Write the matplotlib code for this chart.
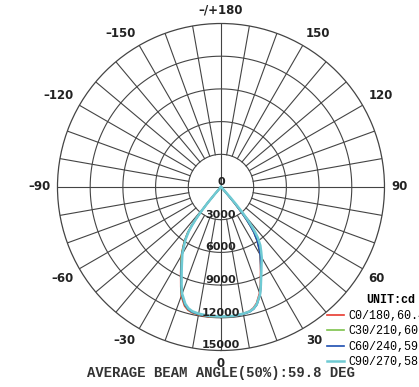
import numpy as np
import matplotlib.pyplot as plt

# vertical angle (deg) from nadir, same grid for every C-plane half
gamma = [0, 5, 10, 13, 15, 17, 20, 22, 25, 27, 30, 32, 34, 36, 37, 38, 39, 40, 41, 42, 44, 50, 60, 90]

# luminous intensity (cd), one list per half-plane
c0 = [11900, 11900, 11800, 11680, 11480, 11150, 10350, 9650, 8600, 8000, 7200, 6550, 5950, 5150, 4550, 3850, 3000, 1950, 850, 180, 0, 0, 0, 0]
c180 = [11950, 11960, 11900, 11830, 11700, 11420, 10650, 9850, 8750, 8100, 7280, 6620, 6020, 5220, 4620, 3920, 3070, 2020, 900, 200, 0, 0, 0, 0]
c30 = [11900, 11910, 11830, 11730, 11560, 11250, 10480, 9740, 8660, 8040, 7240, 6580, 5980, 5180, 4580, 3880, 3030, 1980, 870, 190, 0, 0, 0, 0]
c210 = [11920, 11930, 11870, 11790, 11640, 11340, 10560, 9800, 8700, 8060, 7250, 6590, 5990, 5190, 4590, 3890, 3040, 1990, 880, 190, 0, 0, 0, 0]
c60 = [11900, 11910, 11840, 11750, 11590, 11290, 10510, 9760, 8660, 8020, 7200, 6540, 5930, 5120, 4520, 3820, 2980, 1940, 850, 180, 0, 0, 0, 0]
c240 = [11900, 11910, 11850, 11770, 11610, 11300, 10510, 9740, 8640, 8000, 7180, 6520, 5910, 5100, 4500, 3800, 2960, 1920, 840, 170, 0, 0, 0, 0]
c90 = [11880, 11880, 11800, 11710, 11550, 11240, 10480, 9760, 8750, 8180, 7480, 6950, 6450, 5750, 5250, 4650, 3950, 3100, 2150, 1250, 300, 0, 0, 0]
c270 = [11880, 11880, 11800, 11700, 11530, 11200, 10420, 9660, 8540, 7900, 7080, 6420, 5820, 5020, 4420, 3720, 2880, 1860, 800, 160, 0, 0, 0, 0]

labels = ["C0/180,60.4DEG", "C30/210,60.2DEG", "C60/240,59.6DEG", "C90/270,58.9DEG"]
colors = ["#e8392f", "#7dc24b", "#1d4eb0", "#6fcad3"]
pairs = [(c0, c180), (c30, c210), (c60, c240), (c90, c270)]

rings = [3000, 6000, 9000, 12000, 15000]
ring_labels = ["0", "3000", "6000", "9000", "12000", "15000"]
angle_ticks = [0, 30, 60, 90, 120, 150, 180, -150, -120, -90, -60, -30]
angle_labels = ["0", "30", "60", "90", "120", "150", "\u2013/+180", "\u2013150", "\u2013120", "\u201390", "\u201360", "\u201330"]

fig = plt.figure(figsize=(4.19, 3.87), dpi=100)
ax = fig.add_axes([0.1372, 0.0943, 0.7804, 0.845], projection="polar")
ax.set_theta_zero_location("S")
ax.set_theta_direction(1)
ax.set_ylim(0, 15000)
ax.set_xticks([])
ax.set_yticks([])
ax.grid(False)
ax.spines["polar"].set_color("#444444")
ax.spines["polar"].set_linewidth(0.9)

grid_kw = dict(color="#444444", lw=0.8, zorder=1)
circle = np.linspace(0, 2 * np.pi, 361)
for r in rings[:-1]:
    ax.plot(circle, np.full_like(circle, r), **grid_kw)
for a in range(0, 360, 10):
    start = 0 if a % 90 == 0 else rings[0]
    ax.plot([np.radians(a)] * 2, [start, 15000], **grid_kw)

# each curve: left half (C180..) mirrored onto negative angles, right half positive
g = np.array(gamma)
theta = np.radians(np.concatenate([-g[::-1], g[1:]]))
lines = []
for (right, left), color, lab in zip(pairs, colors, labels):
    r = np.concatenate([np.array(left)[::-1], np.array(right)[1:]])
    lw = 1.8 if color == "#6fcad3" else 1.2
    ln, = ax.plot(theta, r, color=color, lw=lw, label=lab, zorder=3)
    lines.append(ln)

for val, txt in zip([0] + rings, ring_labels):
    ax.text(0, val, txt, ha="center", va="bottom", fontsize=8,
            fontweight="bold", color="#222222", zorder=4)

# angle labels hang off a point just outside the rim, aligned away from the centre
for a, txt in zip(angle_ticks, angle_labels):
    s, c = np.sin(np.radians(a)), np.cos(np.radians(a))
    ha = "left" if s > 0.01 else ("right" if s < -0.01 else "center")
    va = "bottom" if c < -0.01 else ("top" if c > 0.01 else "center")
    ax.text(np.radians(a), 15600, txt, ha=ha, va=va, fontsize=8.5,
            fontweight="bold", color="#222222", clip_on=False)

fig.text(0.5286, 0.036, "AVERAGE BEAM ANGLE(50%):59.8 DEG", ha="center", va="center",
         family="Liberation Mono", fontweight="bold", fontsize=10, color="#333333")

leg = fig.legend(handles=lines, loc="upper left", bbox_to_anchor=(0.781, 0.2395),
                 frameon=False, title="UNIT:cd", handlelength=1.4, handletextpad=0.4,
                 labelspacing=0.3, borderaxespad=0, borderpad=0,
                 prop={"family": "Liberation Mono", "size": 8.5},
                 title_fontproperties={"family": "Liberation Mono", "size": 8.5, "weight": "bold"})

fig.savefig("out.png", dpi=100)
